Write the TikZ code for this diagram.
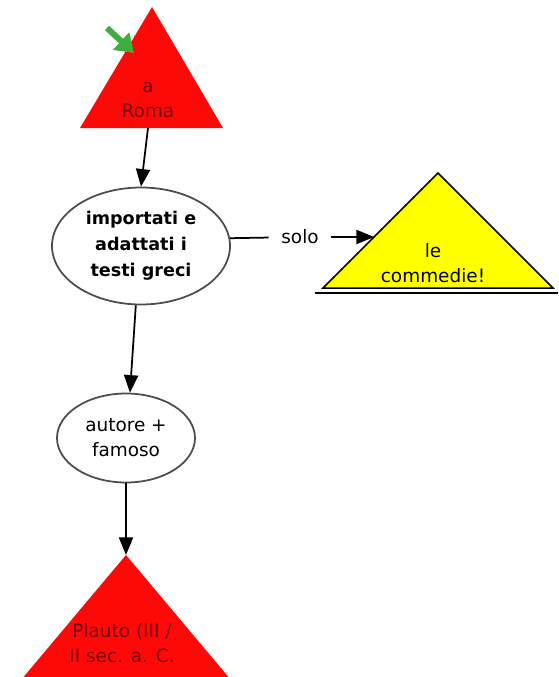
\documentclass[tikz,border=0pt]{standalone}
\usepackage{fontspec}
\setmainfont{DejaVu Sans}
\usepackage{xcolor}
\usetikzlibrary{shapes.geometric,arrows.meta}

\definecolor{conceptred}{RGB}{255,8,8}
\definecolor{textred}{RGB}{120,0,0}
\definecolor{conceptyellow}{RGB}{255,255,0}
\definecolor{startgreen}{RGB}{60,175,60}

\begin{document}
\begin{tikzpicture}[>={Triangle[length=10pt,width=8pt]}]
			\useasboundingbox (0, 0) rectangle (11.18, -13.54);
			
			\draw[fill=conceptred, draw=none] (1.6, -2.56) -- (3.04, -0.14) -- (4.46, -2.56) -- cycle;
			
			\draw[fill=conceptyellow, line width=0.3mm] (6.46, -5.76) -- (8.76, -3.46) -- (11.06, -5.76) -- cycle;
			\draw[line width=0.4mm] (6.3, -5.86) -- (11.16, -5.86);
			
			\draw[fill=conceptred, draw=none] (0.42, -13.6) -- (2.52, -11.1) -- (4.62, -13.6) -- cycle;
			
			\coordinate (roma-base) at (2.96, -2.56);
			\coordinate (commedie-in) at (7.48, -4.74);
			\coordinate (plauto-top) at (2.52, -11.1);
			\coordinate (start-tail) at (2.14, -0.56);
			\coordinate (start-tip) at (2.68, -1.06);
			
			\begin{scope}[
				concept/.style={align=center, draw=black!70, fill=white, ellipse, line width=0.35mm, inner sep=0pt},
				label/.style={align=center, font=\fontsize{10.5}{14.2}\selectfont}]
				\node[concept, minimum width=3.56cm, minimum height=2.34cm, font=\bfseries\fontsize{10}{14.8}\selectfont] (importati) at (2.82, -4.92) {importati e\\adattati i\\testi greci};
				\node[concept, minimum width=2.76cm, minimum height=1.78cm, font=\fontsize{10.5}{14.2}\selectfont] (autore) at (2.52, -8.76) {autore +\\famoso};
				\node[label, text=textred] (roma) at (2.96, -2.0) {a\\Roma};
				\node[label] (commedie) at (8.66, -5.26) {le\\commedie!};
				\node[label, text=textred] (plauto) at (2.44, -12.86) {Plauto (III /\\II sec. a. C.};
				\node[label, inner sep=7pt] (solo) at (6.0, -4.74) {solo};
			\end{scope}
		
			\draw[startgreen, line width=1.2mm, -{Triangle[length=10pt,width=13pt]}] (start-tail) -- (start-tip);
			\draw[->, line width=0.35mm] (roma-base) -- (importati.north);
			\draw[-, line width=0.35mm] (importati.5) -- (solo);
			\draw[->, line width=0.35mm] (solo) -- (commedie-in);
			\draw[->, line width=0.35mm] (importati.265) -- (autore.85);
			\draw[->, line width=0.35mm] (autore.south) -- (plauto-top);
		\end{tikzpicture}
\end{document}
